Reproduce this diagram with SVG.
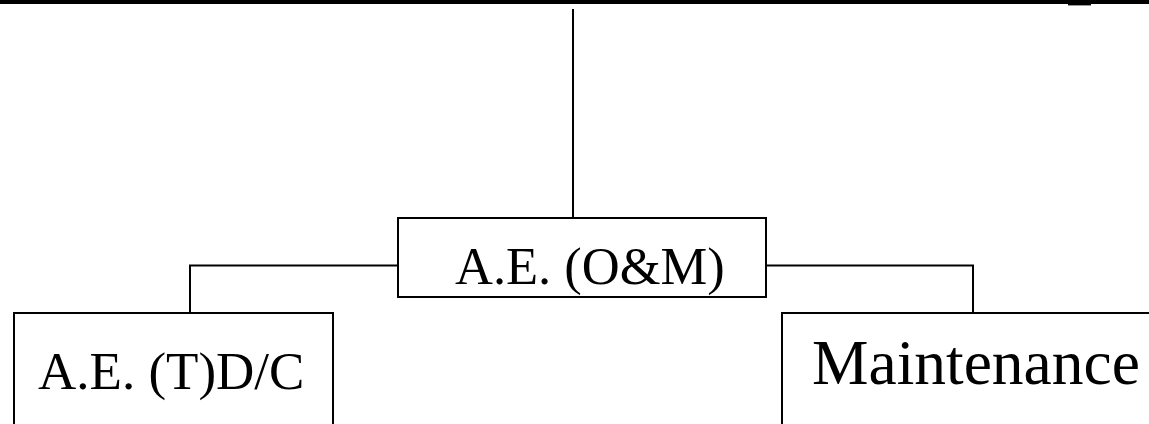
<svg xmlns="http://www.w3.org/2000/svg" width="1149" height="424" viewBox="0 0 1149 424">
<style>
.box{fill:#fff;stroke:#000;stroke-width:2}
.ln{fill:none;stroke:#000;stroke-width:2}
.t{font-family:"Liberation Serif","Times New Roman",serif;fill:#000}
</style>
<rect x="0" y="0" width="1149" height="4" fill="#000"/>
<rect x="1068" y="0" width="23" height="5" fill="#000"/>
<line x1="1068" y1="5.5" x2="1091" y2="5.5" stroke="#999" stroke-width="1"/>
<g id="connectors">
<line class="ln" x1="573" y1="9" x2="573" y2="218"/>
<polyline class="ln" points="398,265.5 190,265.5 190,313"/>
<polyline class="ln" points="766,265.5 973,265.5 973,313"/>
</g>
<g id="node-ae-om">
<rect class="box" x="398" y="218" width="368" height="79"/>
<text class="t" x="455" y="284" font-size="52.5">A.E. (O&amp;M)</text>
</g>
<g id="node-ae-tdc">
<rect class="box" x="14" y="313" width="319" height="130"/>
<text class="t" x="38" y="389" font-size="53">A.E. (T)D/C</text>
</g>
<g id="node-maintenance">
<rect class="box" x="782" y="313" width="400" height="130"/>
<text class="t" x="812" y="384" font-size="63.5">Maintenance</text>
</g>
</svg>
